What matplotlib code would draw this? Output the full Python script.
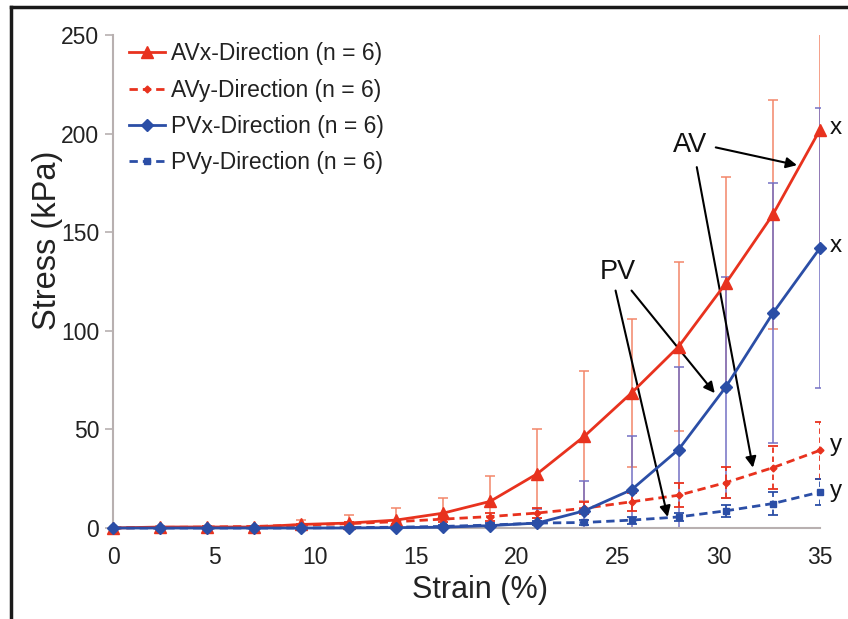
import matplotlib
matplotlib.use("Agg")
import matplotlib.pyplot as plt
from matplotlib.lines import Line2D
import numpy as np

plt.rcParams['font.family'] = ['Liberation Sans', 'DejaVu Sans']

strain = [0, 2.33, 4.67, 7, 9.33, 11.67, 14, 16.33, 18.67, 21, 23.33, 25.67, 28, 30.33, 32.67, 35]

avx = [0, 0.5, 0.5, 0.5, 1.8, 2.5, 4, 7.5, 13.5, 27.5, 46.5, 68.5, 92, 124, 159, 202]
avx_sd = [0, 0.3, 0.5, 0.5, 2.5, 4, 6, 7.5, 13, 22.5, 33, 37.5, 43, 54, 58, 60]

avy = [0, 0.3, 0.5, 0.8, 1.5, 2.2, 3.2, 4.5, 5.8, 7.6, 10, 13.3, 16.6, 23, 30.6, 39.4]
avy_sd = [0, 0.2, 0.3, 0.4, 0.6, 0.8, 1, 1.5, 2, 2.5, 3, 4.5, 6, 7.7, 11, 14.5]

pvx = [0, 0, 0, 0, 0, 0, 0.2, 0.4, 1.2, 2.5, 8.7, 19.4, 39.8, 71.4, 109, 142]
pvx_sd = [0, 0, 0, 0, 0, 0, 0.3, 0.5, 1, 7, 15, 27, 42, 56, 66, 71]

pvy = [0, 0, 0, 0, 0, 0.2, 0.4, 0.8, 1.5, 2.5, 2.8, 4, 5.6, 8.7, 12.4, 18.2]
pvy_sd = [0, 0, 0, 0, 0, 0.2, 0.3, 0.5, 0.8, 1, 1.2, 1.8, 2.2, 3, 6, 6.5]

labels = ["AVx-Direction (n = 6)", "AVy-Direction (n = 6)",
          "PVx-Direction (n = 6)", "PVy-Direction (n = 6)"]

RED = '#e8321e'
BLUE = '#2b4ea6'
RED_EB = '#f3866a'
BLUE_EB = '#7470c4'

W, H = 848, 619
fig = plt.figure(figsize=(W / 100, H / 100), dpi=100)
ax = fig.add_axes([113 / W, 1 - 528 / H, (820 - 113) / W, (528 - 35) / H])

# error bars (clipped)
ax.errorbar(strain, avx, yerr=avx_sd, fmt='none', ecolor=RED_EB, elinewidth=1.1, capsize=3.5, capthick=1.1, zorder=1)
ax.errorbar(strain, pvx, yerr=pvx_sd, fmt='none', ecolor=BLUE_EB, elinewidth=1.1, capsize=3.5, capthick=1.1, zorder=1)
eb3 = ax.errorbar(strain, avy, yerr=avy_sd, fmt='none', ecolor=RED, elinewidth=1.3, capsize=3.5, capthick=1.3, zorder=1)
eb3[2][0].set_linestyle((0, (3, 2)))
eb4 = ax.errorbar(strain, pvy, yerr=pvy_sd, fmt='none', ecolor=BLUE, elinewidth=1.3, capsize=3.5, capthick=1.3, zorder=1)
eb4[2][0].set_linestyle((0, (3, 2)))

ax.plot(strain, avx, color=RED, lw=2, marker='^', ms=8, label=labels[0], clip_on=False, zorder=4)
ax.plot(strain, avy, color=RED, lw=2, ls=(0, (3, 1.8)), marker='D', ms=3.5, label=labels[1], clip_on=False, zorder=3)
ax.plot(strain, pvx, color=BLUE, lw=2, marker='D', ms=6, label=labels[2], clip_on=False, zorder=4)
ax.plot(strain, pvy, color=BLUE, lw=2, ls=(0, (3, 1.8)), marker='s', ms=4.5, label=labels[3], clip_on=False, zorder=3)

ax.set_xlim(0, 35)
ax.set_ylim(0, 250)
ax.set_xticks([0, 5, 10, 15, 20, 25, 30, 35])
ax.set_yticks([0, 50, 100, 150, 200, 250])
for s in ['top', 'right']:
    ax.spines[s].set_visible(False)
for s in ['left', 'bottom']:
    ax.spines[s].set_color('#b8b0b0')
    ax.spines[s].set_linewidth(1.5)
ax.tick_params(axis='y', length=6, width=1.2, color='#b8b0b0', labelsize=16.5, pad=4, labelcolor='#222222')
ax.tick_params(axis='x', length=0, labelsize=16.5, pad=13, labelcolor='#222222')
ax.set_xlabel('Strain (%)', fontsize=22, color='#222222')
ax.set_ylabel('Stress (kPa)', fontsize=23.5, color='#222222')
ax.xaxis.set_label_coords((480 - 113) / 707, -(590 - 528) / 493)
ax.yaxis.set_label_coords((47 - 113) / 707, (528 - 240) / 493)
ax.xaxis.label.set_va('center')
ax.yaxis.label.set_va('center')

leg = ax.legend(loc='upper left', bbox_to_anchor=(0.022, 0.985), frameon=False, fontsize=16.5,
                handlelength=1.6, handletextpad=0.25, labelspacing=0.58, borderpad=0, borderaxespad=0)
for t in leg.get_texts():
    t.set_color('#222222')

# annotations
arrow = dict(arrowstyle='-|>', color='black', lw=1.5, mutation_scale=16, shrinkA=0, shrinkB=0)
ax.text(28.55, 194, 'AV', fontsize=19.5, ha='center', va='center', color='#111111')
ax.annotate('', xy=(33.86, 184), xytext=(29.84, 193), arrowprops=arrow)
ax.annotate('', xy=(31.68, 30.6), xytext=(28.9, 183), arrowprops=arrow)
ax.text(24.97, 130, 'PV', fontsize=19.5, ha='center', va='center', color='#111111')
ax.annotate('', xy=(29.79, 68.4), xytext=(25.67, 120.4), arrowprops=arrow)
ax.annotate('', xy=(27.46, 5.6), xytext=(24.88, 120.4), arrowprops=arrow)

for yv, t in [(203, 'x'), (143, 'x'), (42, 'y'), (19, 'y')]:
    ax.text(35.5, yv, t, fontsize=17.5, ha='left', va='center', color='#111111', clip_on=False)

# figure border
fig.add_artist(Line2D([11 / W, 11 / W], [0, 1 - 7 / H], color='#1a1a1a', lw=2.5))
fig.add_artist(Line2D([11 / W, 1], [1 - 7 / H, 1 - 7 / H], color='#1a1a1a', lw=2.5))

fig.savefig('out.png', dpi=100)
